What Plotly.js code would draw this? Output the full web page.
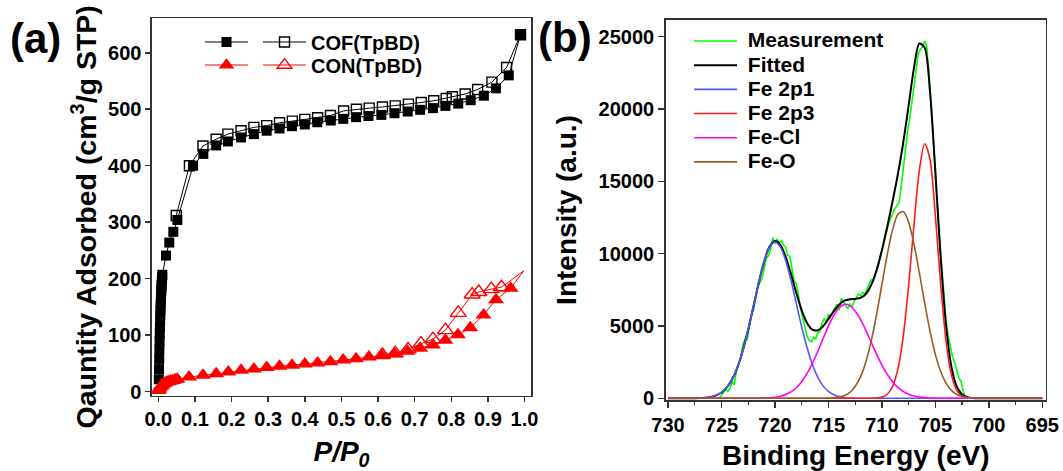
<!DOCTYPE html>
<html><head><meta charset="utf-8">
<script src="https://cdn.plot.ly/plotly-3.0.1.min.js"></script>
<style>html,body{margin:0;padding:0;background:#fff;} #chart{width:1063px;height:471px;}</style>
</head><body><div id="chart"></div>
<script>
// ---------- Panel (a): N2 isotherms ----------
const cofAdsP = [0.0015,0.002,0.0025,0.003,0.0035,0.004,0.0045,0.005,0.0055,0.006,0.0065,0.007,0.0075,0.008,0.0085,0.009,0.0095,0.010,0.0105,0.011,0.021,0.030,0.041,0.052,0.095,0.123,0.158,0.190,0.226,0.261,0.296,0.331,0.365,0.400,0.434,0.471,0.505,0.540,0.574,0.609,0.645,0.681,0.715,0.750,0.784,0.819,0.853,0.889,0.922,0.957,0.989];
const cofAdsQ = [22,40,58,75,90,103,115,126,136,145,154,162,170,177,183,189,194,199,203,207,241,264,283,304,400,421,436,443,450,456,462,466,470,473,477,480,483,486,488,490,493,496,499,502,506,510,516,524,537,560,632];
const cofDesP = [0.989,0.951,0.911,0.872,0.838,0.803,0.786,0.752,0.718,0.683,0.647,0.612,0.576,0.541,0.506,0.470,0.435,0.400,0.366,0.331,0.296,0.261,0.226,0.190,0.158,0.122,0.085,0.049];
const cofDesQ = [632,574,548,535,527,522,519,515,512,509,506,504,502,500,497,489,485,482,479,476,471,468,462,456,447,435,400,312];
const conAdsP = [0.001,0.003,0.005,0.008,0.011,0.015,0.019,0.024,0.029,0.034,0.040,0.046,0.052,0.084,0.122,0.158,0.191,0.226,0.261,0.296,0.331,0.365,0.400,0.435,0.470,0.505,0.540,0.575,0.610,0.645,0.680,0.715,0.750,0.784,0.818,0.852,0.888,0.922,0.962,0.998];
const conAdsQ = [2,5,8,10,12,14,15.5,17,18,19,20,21,22,26,29,32,35,38,40,43,45,47,49,51,53,56,58.5,61.5,64.5,67,71.5,77,82.5,91,101,113,136,163,183,214];
const conDesP = [0.998,0.937,0.909,0.875,0.857,0.819,0.784,0.750,0.717,0.682,0.647,0.612];
const conDesQ = [214,185,181.5,176.5,172,139.5,109,93,85,75,68,65];
const pTickVals = [0,0.1,0.2,0.3,0.4,0.5,0.6,0.7,0.8,0.9,1.0];
const pTickText = ['0.0','0.1','0.2','0.3','0.4','0.5','0.6','0.7','0.8','0.9','1.0'];
const qTickVals = [0,100,200,300,400,500,600];
const qTickText = ['0','100','200','300','400','500','600'];

// ---------- Panel (b): Fe 2p XPS ----------
const energy = [730,729.5,729,728.5,728,727.5,727,726.5,726,725.5,725,724.5,724,723.5,723,722.5,722,721.5,721,720.5,720,719.5,719,718.5,718,717.5,717,716.5,716,715.5,715,714.5,714,713.5,713,712.5,712,711.5,711,710.5,710,709.5,709,708.5,708,707.5,707,706.5,706,705.5,705,704.5,704,703.5,703,702.5,702,701.5,701,700.5,700,699.5,699,698.5,698,697.5,697,696.5,696,695.5,695];
const fitted = [0,0,0,0,3,7,17,42,95,202,404,753,1320,2160,3310,4751,6383,8037,9487,10486,10872,10609,9786,8595,7281,6090,5209,4744,4698,4985,5477,6018,6470,6747,6848,6871,6942,7214,7831,8852,10237,11861,13612,15504,17686,20241,22829,24531,24238,21197,15686,9710,5021,2184,816,271,84,26,8,3,1,0,0,0,0,0,0,0,0,0,0];
const fe2p1 = [0,0,0,0,3,7,17,42,95,202,404,753,1320,2160,3310,4750,6380,8030,9470,10450,10800,10470,9531,8153,6550,4945,3506,2336,1462,859,474,246,120,55,24,10,4,1,0,0,0,0,0,0,0,0,0,0,0,0,0,0,0,0,0,0,0,0,0,0,0,0,0,0,0,0,0,0,0,0,0];
const fe2p3 = [0,0,0,0,0,0,0,0,0,0,0,0,0,0,0,0,0,0,0,0,0,0,0,0,0,0,0,0,0,0,0,0,0,0,0,0,0,1,4,20,81,279,816,2030,4305,7780,11990,15740,17600,16530,12636,7855,3973,1634,547,149,33,6,1,0,0,0,0,0,0,0,0,0,0,0,0];
const feCl = [0,0,0,0,0,0,0,0,0,0,0,0,0,0,0,1,3,7,17,36,72,139,255,442,731,1145,1703,2408,3234,4121,4989,5736,6263,6494,6407,6044,5452,4700,3876,3055,2302,1660,1143,753,474,286,164,91,48,24,12,5,2,0,0,0,0,0,0,0,0,0,0,0,0,0,0,0,0,0,0];
const feO = [0,0,0,0,0,0,0,0,0,0,0,0,0,0,0,0,0,0,0,0,0,0,0,0,0,0,0,0,2,5,14,36,87,198,417,817,1486,2512,3951,5777,7854,9922,11653,12721,12907,12175,10675,8700,6590,4643,3038,1850,1046,550,269,122,51,20,7,3,1,0,0,0,0,0,0,0,0,0,0];
const measE = [725.2,725.0,724.8,724.6,724.4,724.2,724.0,723.8,723.6,723.4,723.2,723.0,722.8,722.6,722.4,722.2,722.0,721.8,721.6,721.4,721.2,721.0,720.8,720.6,720.4,720.2,720.0,719.8,719.6,719.4,719.2,719.0,718.8,718.6,718.4,718.2,718.0,717.8,717.6,717.4,717.2,717.0,716.8,716.6,716.4,716.2,716.0,715.8,715.6,715.4,715.2,715.0,714.8,714.6,714.4,714.2,714.0,713.8,713.6,713.4,713.2,713.0,712.8,712.6,712.4,712.2,712.0,711.8,711.6,711.4,711.2,711.0,710.8,710.6,710.4,710.2,710.0,709.8,709.6,709.4,709.2,709.0,708.8,708.6,708.4,708.2,708.0,707.8,707.6,707.4,707.2,707.0,706.8,706.6,706.4,706.2,706.0,705.8,705.6,705.4,705.2,705.0,704.8,704.6,704.4,704.2,704.0,703.8,703.6,703.4,703.2,703.0,702.8,702.6,702.4,702.2];
const measI = [0,200,350,600,480,700,1150,950,1900,2300,2800,3700,4100,4050,5000,5800,6100,7000,7700,8000,8300,9000,9700,9850,10300,11100,10700,11000,10750,10900,10600,10450,9900,9800,9000,8100,7900,7200,6200,5600,4900,4300,4000,3900,4200,4100,4500,4600,5200,5500,5300,5800,5700,6000,6300,6500,6100,6900,6700,6400,6200,6500,6300,6700,7000,7200,7100,7300,7200,7500,7900,8200,8100,8500,9000,9600,10200,10900,11500,12000,12400,12800,13100,13300,13500,14600,16000,17300,18400,19300,20500,21800,23000,23800,24100,24300,24700,24300,22500,20500,18000,15500,13000,10800,9100,7000,5400,4300,3600,2900,2500,2000,1400,1200,500,100];
const eTickVals = [730,725,720,715,710,705,700,695];
const eTickText = ['730','725','720','715','710','705','700','695'];
const iTickVals = [0,5000,10000,15000,20000,25000];
const iTickText = ['0','5000','10000','15000','20000','25000'];

// ---------- styling ----------
const FONT = 'Liberation Sans, Arial, Helvetica, sans-serif';
const AX = '#333333';
const bold = (arr) => arr.map((t) => '<b>' + t + '</b>');
const hideLastMarker = (arr, size) => arr.map((p) => p > 0.995 ? 0 : size);
const lg = (t) => '<span style="font-size:21px">\u00a0' + t + '</span>';

const traces = [
  {x: cofDesP, y: cofDesQ, xaxis:'x', yaxis:'y', mode:'lines+markers', name:'COF(TpBD)', legend:'legend', cliponaxis:false,
   line:{color:'#000', width:1}, marker:{symbol:'square-open', size:10, opacity:1, color:'#000', line:{width:1.4, color:'#000'}}},
  {x: conDesP, y: conDesQ, xaxis:'x', yaxis:'y', mode:'lines+markers', name:'CON(TpBD)', legend:'legend2', cliponaxis:false,
   line:{color:'#ff0000', width:1}, marker:{symbol:'triangle-up-open', size:hideLastMarker(conDesP, 14), sizemode:'diameter', opacity:1, color:'#ff0000', line:{width:1.4, color:'#ff0000'}}},
  {x: cofAdsP, y: cofAdsQ, xaxis:'x', yaxis:'y', mode:'lines+markers', name:'', legend:'legend', cliponaxis:false,
   line:{color:'#000', width:1}, marker:{symbol:'square', size:10, opacity:1, color:'#000'}},
  {x: conAdsP, y: conAdsQ, xaxis:'x', yaxis:'y', mode:'lines+markers', name:'', legend:'legend2', cliponaxis:false,
   line:{color:'#ff0000', width:1}, marker:{symbol:'triangle-up', size:hideLastMarker(conAdsP, 14), sizemode:'diameter', opacity:1, color:'#ff0000', line:{width:0}}},

  {x: measE, y: measI, xaxis:'x2', yaxis:'y2', mode:'lines', name:lg('Measurement'), legend:'legend3',
   line:{color:'#00ff00', width:1.6}},
  {x: energy, y: fitted, xaxis:'x2', yaxis:'y2', mode:'lines', name:lg('Fitted'), legend:'legend3',
   line:{color:'#000000', width:2, shape:'spline', smoothing:0.8}},
  {x: energy, y: fe2p1, xaxis:'x2', yaxis:'y2', mode:'lines', name:lg('Fe 2p1'), legend:'legend3',
   line:{color:'#5555ff', width:1.6, shape:'spline', smoothing:0.8}},
  {x: energy, y: fe2p3, xaxis:'x2', yaxis:'y2', mode:'lines', name:lg('Fe 2p3'), legend:'legend3',
   line:{color:'#ff1a1a', width:1.6, shape:'spline', smoothing:0.8}},
  {x: energy, y: feCl, xaxis:'x2', yaxis:'y2', mode:'lines', name:lg('Fe-Cl'), legend:'legend3',
   line:{color:'#ff00ff', width:1.6, shape:'spline', smoothing:0.8}},
  {x: energy, y: feO, xaxis:'x2', yaxis:'y2', mode:'lines', name:lg('Fe-O'), legend:'legend3',
   line:{color:'#9b5a1f', width:1.6, shape:'spline', smoothing:0.8}}
];

const axisBase = {showline:true, linecolor:AX, linewidth:1.5, mirror:true, showgrid:false, zeroline:false,
  ticks:'outside', ticklen:5, tickwidth:1.5, tickcolor:AX,
  tickfont:{family:FONT, size:20, color:'#000', weight:700}, automargin:false};

const layout = {
  width:1063, height:471, margin:{l:0, r:0, t:0, b:0},
  paper_bgcolor:'#fff', plot_bgcolor:'#fff',
  font:{family:FONT, weight:'bold', color:'#000', size:20},
  xaxis: Object.assign({}, axisBase, {domain:[0.14299,0.49953], anchor:'y', range:[-0.0172,1.0177],
    tickmode:'array', tickvals:pTickVals, ticktext:bold(pTickText),
    title:{text:'<i>P/P<sub>0</sub></i>', font:{size:28, weight:'bold'}, standoff:12}}),
  yaxis: Object.assign({}, axisBase, {domain:[0.15924,0.96115], anchor:'x', range:[-7.6,661],
    tickmode:'array', tickvals:qTickVals, ticktext:bold(qTickText)}),
  xaxis2: Object.assign({}, axisBase, {domain:[0.62625,0.98373], anchor:'y2', range:[730.215,694.68],
    tickmode:'array', tickvals:eTickVals, ticktext:bold(eTickText), ticklen:6,
    minor:{tickmode:'linear', tick0:0, dtick:2.5, ticks:'outside', ticklen:3.5, tickwidth:1.2, tickcolor:AX},
    title:{text:'Binding Energy (eV)', font:{size:28, weight:'bold'}, standoff:16}}),
  yaxis2: Object.assign({}, axisBase, {domain:[0.15074,0.95754], anchor:'x2', range:[-117.5,26154],
    tickmode:'array', tickvals:iTickVals, ticktext:bold(iTickText), ticklen:6,
    title:{text:'Intensity (a.u.)', font:{size:28, weight:'bold'}, standoff:14}}),
  legend: {x:0.18815, xanchor:'left', y:0.95223, yanchor:'top', orientation:'h', traceorder:'reversed',
    itemwidth:43, bgcolor:'rgba(0,0,0,0)', borderwidth:0, font:{size:20, weight:'bold'}},
  legend2: {x:0.18815, xanchor:'left', y:0.9034, yanchor:'top', orientation:'h', traceorder:'reversed',
    itemwidth:43, bgcolor:'rgba(0,0,0,0)', borderwidth:0, font:{size:20, weight:'bold'}},
  legend3: {x:0.6482, xanchor:'left', y:0.9493, yanchor:'top', orientation:'v', traceorder:'normal',
    itemwidth:43, bgcolor:'rgba(0,0,0,0)', borderwidth:0, font:{size:16.3, weight:'bold'}},
  annotations: [
    {text:'Qauntity Adsorbed (cm<sup>3</sup>/g STP)', xref:'paper', yref:'paper', x:0.0790, y:0.5403,
     xanchor:'center', yanchor:'middle', textangle:-90, showarrow:false, font:{size:28.5, weight:'bold'}},
    {text:'(a)', xref:'paper', yref:'paper', x:0.0338, y:0.9193, xanchor:'center', yanchor:'middle', showarrow:false, font:{size:42, weight:'bold'}},
    {text:'(b)', xref:'paper', yref:'paper', x:0.5315, y:0.9214, xanchor:'center', yanchor:'middle', showarrow:false, font:{size:42, weight:'bold'}}
  ],
  showlegend:true
};

Plotly.newPlot('chart', traces, layout, {displayModeBar:false, staticPlot:true});
</script></body></html>
